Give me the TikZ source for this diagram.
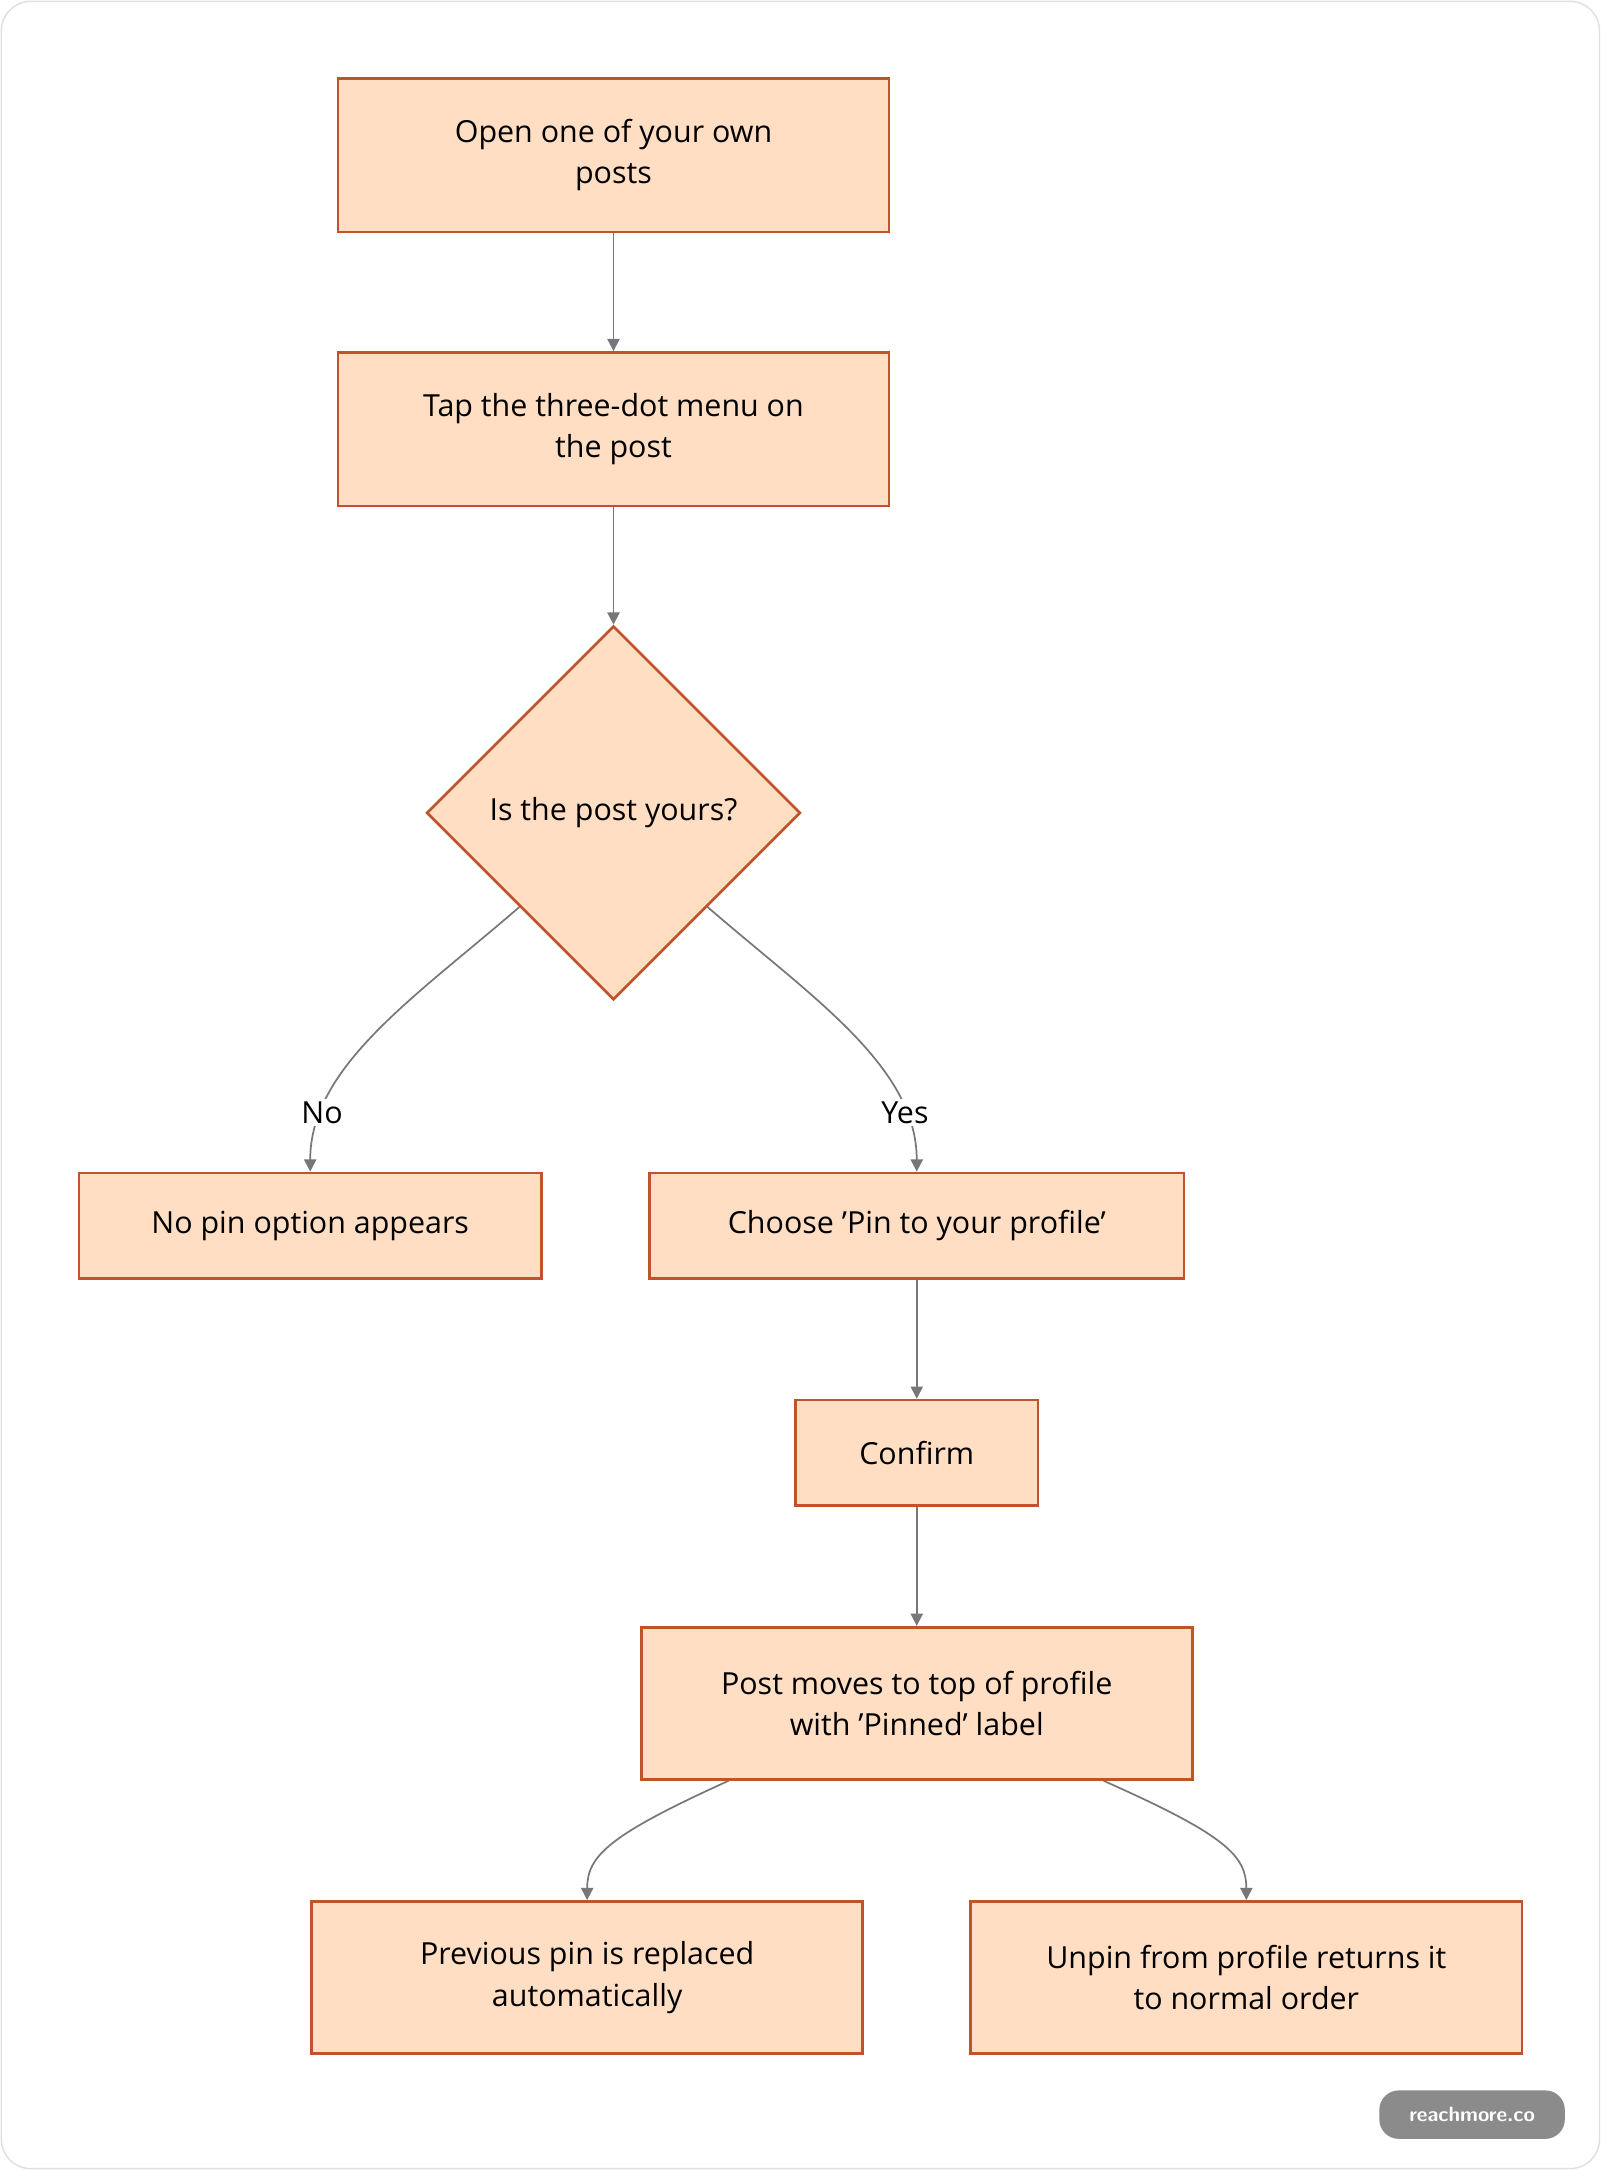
\documentclass[tikz,border=0pt]{standalone}
\usepackage{fontspec}
\setmainfont{Open Sans}
\usetikzlibrary{arrows.meta, shapes.geometric, positioning}
\definecolor{peach}{HTML}{FFDEC4}
\definecolor{rust}{HTML}{C0532C}
\definecolor{edgegray}{HTML}{777777}

\begin{document}
\begin{tikzpicture}[
  x=0.02cm, y=-0.02cm,
  every text node part/.style={align=center},
  stepbox/.style={fill=peach, draw=rust, line width=1.1pt, font=\fontsize{12.5}{17}\selectfont, inner sep=0pt},
  decide/.style={stepbox, diamond, minimum width=5.4cm, minimum height=5.4cm},
  flow/.style={draw=edgegray, line width=0.7pt, -{Triangle[length=5pt,width=5pt]}},
  lbl/.style={fill=white, inner sep=1pt, font=\fontsize{12.5}{15}\selectfont}
]
% frame
\draw[rounded corners=12pt, draw=black!12, fill=white, line width=0.6pt] (1,1) rectangle (1155,1566);
\useasboundingbox (0,0) rectangle (1156,1567);

% steps
\node[stepbox, minimum width=7.96cm, minimum height=2.22cm] (open) at (443,112) {Open one of your own\\posts};
\node[stepbox, minimum width=7.96cm, minimum height=2.22cm] (tap) at (443,310) {Tap the three-dot menu on\\the post};
\node[decide] (own) at (443,587) {Is the post yours?};
\node[stepbox, minimum width=6.68cm, minimum height=1.52cm] (nopin) at (224,885) {No pin option appears};
\node[stepbox, minimum width=7.72cm, minimum height=1.52cm] (pin) at (662,885) {Choose 'Pin to your profile'};
\node[stepbox, minimum width=3.5cm, minimum height=1.52cm] (confirm) at (662,1049) {Confirm};
\node[stepbox, minimum width=7.96cm, minimum height=2.2cm] (top) at (662,1230) {Post moves to top of profile\\with 'Pinned' label};
\node[stepbox, minimum width=7.96cm, minimum height=2.2cm] (prev) at (424,1428) {Previous pin is replaced\\automatically};
\node[stepbox, minimum width=7.96cm, minimum height=2.2cm] (unpin) at (900,1428) {Unpin from profile returns it\\to normal order};

% connectors
\draw[flow] (open) -- (tap);
\draw[flow] (tap) -- (own);
\draw[flow] (own.south west) .. controls (300,720) and (224,770) .. (nopin.north)
  node[lbl, pos=0.8] {No};
\draw[flow] (own.south east) .. controls (586,720) and (662,770) .. (pin.north)
  node[lbl, pos=0.8] {Yes};
\draw[flow] (pin) -- (confirm);
\draw[flow] (confirm) -- (top);
\draw[flow] ([xshift=1.28cm]top.south west) .. controls (440,1325) and (424,1340) .. (prev.north);
\draw[flow] ([xshift=-1.3cm]top.south east) .. controls (885,1325) and (900,1340) .. (unpin.north);

% badge
\node[fill=edgegray!85, text=white, rounded corners=8pt, minimum width=2.68cm, minimum height=0.7cm,
  font=\sffamily\bfseries\fontsize{8.5}{10}\selectfont] (badge) at (1063,1527) {reachmore.co};
\end{tikzpicture}
\end{document}
